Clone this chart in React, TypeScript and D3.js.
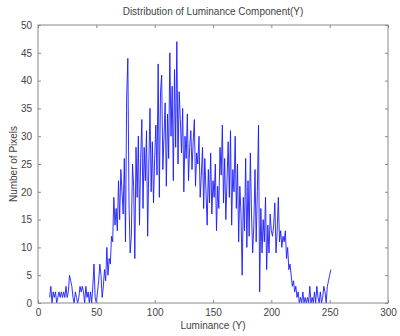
import React, { useRef, useEffect } from 'react';
import * as d3 from 'd3';

// histogram counts for luminance levels 10..251
const startLevel = 10;
const counts: number[] = [
  1, 3, 0, 2, 1, 2, 0, 1, 2, 1,
  2, 1, 2, 1, 3, 1, 2, 5, 4, 3,
  1, 0, 2, 1, 0, 1, 3, 2, 3, 2,
  0, 3, 1, 2, 0, 2, 0, 3, 7, 1,
  0, 2, 4, 7, 5, 1, 3, 6, 4, 10,
  5, 8, 7, 12, 11, 19, 14, 17, 13, 22,
  15, 24, 20, 16, 26, 11, 37, 44, 18, 9,
  12, 25, 21, 8, 28, 19, 30, 14, 26, 33,
  17, 28, 22, 31, 12, 25, 35, 20, 29, 18,
  26, 32, 23, 43, 19, 38, 41, 24, 30, 36,
  21, 34, 26, 45, 30, 39, 22, 42, 28, 47,
  25, 38, 33, 27, 35, 20, 30, 26, 34, 22,
  28, 31, 24, 29, 33, 21, 27, 25, 30, 19,
  23, 28, 17, 26, 20, 14, 24, 18, 27, 16,
  22, 19, 25, 13, 21, 17, 28, 23, 32, 18,
  26, 15, 22, 29, 19, 31, 14, 24, 20, 30,
  17, 25, 11, 21, 16, 5, 19, 13, 26, 10,
  22, 12, 27, 16, 9, 14, 24, 11, 20, 32,
  2, 17, 9, 15, 11, 19, 6, 14, 9, 16,
  13, 12, 14, 18, 9, 13, 19, 11, 13, 10,
  12, 11, 13, 8, 10, 6, 7, 5, 3, 4,
  2, 3, 1, 2, 0, 1, 0, 2, 0, 1,
  0, 1, 0, 3, 0, 1, 0, 2, 0, 3,
  1, 0, 2, 0, 1, 3, 2, 0, 3, 4,
  5, 6,
];
const xTicks = [0, 50, 100, 150, 200, 250, 300];
const yTicks = [0, 5, 10, 15, 20, 25, 30, 35, 40, 45, 50];

const W = 400;
const H = 336;
const margin = { top: 25, right: 12, bottom: 33, left: 38 };

const App: React.FC = () => {
  const svgRef = useRef<SVGSVGElement | null>(null);

  useEffect(() => {
    const svg = d3.select(svgRef.current);
    svg.selectAll('*').remove();

    const innerWidth = W - margin.left - margin.right;
    const innerHeight = H - margin.top - margin.bottom;
    const font = 'Liberation Sans, Arial, sans-serif';
    const axisColor = '#8a8a8a';
    const textColor = '#444';

    const x = d3.scaleLinear().domain([0, 300]).range([0, innerWidth]);
    const y = d3.scaleLinear().domain([0, 50]).range([innerHeight, 0]);

    const g = svg.append('g').attr('transform', `translate(${margin.left},${margin.top})`);

    const line = d3.line<number>()
      .x((_, i) => x(startLevel + i))
      .y(d => y(d));

    g.append('path')
      .datum(counts)
      .attr('fill', 'none')
      .attr('stroke', '#1a1aff')
      .attr('stroke-width', 0.9)
      .attr('d', line);

    // box
    g.append('rect')
      .attr('x', 0).attr('y', 0)
      .attr('width', innerWidth).attr('height', innerHeight)
      .attr('fill', 'none').attr('stroke', axisColor).attr('stroke-width', 1);

    const tk = 3;
    const axB = g.append('g').attr('transform', `translate(0,${innerHeight})`)
      .call(d3.axisBottom(x).tickValues(xTicks).tickSizeInner(-tk).tickSizeOuter(0).tickPadding(6));
    const axT = g.append('g')
      .call(d3.axisTop(x).tickValues(xTicks).tickSizeInner(-tk).tickSizeOuter(0).tickFormat(() => ''));
    const axL = g.append('g')
      .call(d3.axisLeft(y).tickValues(yTicks).tickSizeInner(-tk).tickSizeOuter(0).tickPadding(6));
    const axR = g.append('g').attr('transform', `translate(${innerWidth},0)`)
      .call(d3.axisRight(y).tickValues(yTicks).tickSizeInner(-tk).tickSizeOuter(0).tickFormat(() => ''));

    [axB, axT, axL, axR].forEach(a => {
      a.select('.domain').remove();
      a.selectAll('line').attr('stroke', axisColor);
      a.selectAll('text').attr('fill', textColor).style('font-family', font).style('font-size', '10px');
    });

    svg.append('text')
      .attr('x', margin.left + innerWidth / 2).attr('y', 15)
      .attr('text-anchor', 'middle')
      .style('font-family', font).style('font-size', '10px').attr('fill', textColor)
      .text('Distribution of Luminance Component(Y)');

    svg.append('text')
      .attr('x', margin.left + innerWidth / 2).attr('y', 329)
      .attr('text-anchor', 'middle')
      .style('font-family', font).style('font-size', '10px').attr('fill', textColor)
      .text('Luminance (Y)');

    svg.append('text')
      .attr('transform', `translate(17,${margin.top + innerHeight / 2}) rotate(-90)`)
      .attr('text-anchor', 'middle')
      .style('font-family', font).style('font-size', '10px').attr('fill', textColor)
      .text('Number of Pixels');
  }, []);

  return (
    <svg ref={svgRef} width={W} height={H} style={{ position: 'absolute', left: 0, top: 0 }} />
  );
};

export default App;
